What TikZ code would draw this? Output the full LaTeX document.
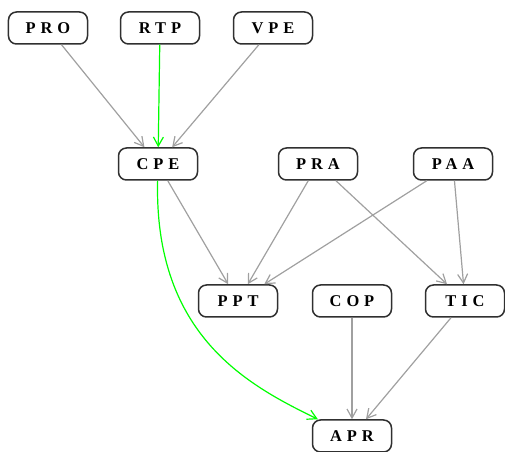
\documentclass[tikz,border=0pt]{standalone}
\usepackage{fontspec}
\usepackage{tikz}
\usepackage{xcolor}
\usetikzlibrary{arrows.meta}
\newfontfamily\boxfont[LetterSpace=30]{Liberation Serif}
\definecolor{EdgeGray}{HTML}{A0A0A0}
\definecolor{EdgeGreen}{HTML}{00FF00}
\definecolor{BoxLine}{HTML}{303030}

\begin{document}
\begin{tikzpicture}[x=1bp,y=1bp,
  task/.style={draw=BoxLine,line width=1.5bp,rounded corners=8bp,minimum width=79bp,
    minimum height=32bp,inner sep=0pt,font=\boxfont\bfseries\fontsize{16.5}{18}\selectfont},
  link/.style={draw=EdgeGray,line width=1.2bp,-{Straight Barb[length=9bp,width=10bp]}},
  hot/.style={link,draw=EdgeGreen}]
  \useasboundingbox (0,0) rectangle (505,452);
  % top row
  \node[task] (pro) at (48,424) {PRO};
  \node[task] (rtp) at (160,424) {RTP};
  \node[task] (vpe) at (273,424) {VPE};
  % second row
  \node[task] (cpe) at (158,288) {CPE};
  \node[task] (pra) at (318,288) {PRA};
  \node[task] (paa) at (453,288) {PAA};
  % third row
  \node[task] (ppt) at (238,151) {PPT};
  \node[task] (cop) at (352,151) {COP};
  \node[task] (tic) at (465,151) {TIC};
  % bottom
  \node[task] (apr) at (352,16) {APR};
  \foreach \a/\b in {pro/cpe,vpe/cpe,cpe/ppt,pra/ppt,paa/ppt,pra/tic,paa/tic,cop/apr,tic/apr}
    \draw[link] (\a) -- (\b);
  \draw[hot] (rtp) -- (cpe);
  \draw[hot] (cpe) .. controls (154,115) and (250,66) .. (apr);
\end{tikzpicture}
\end{document}
